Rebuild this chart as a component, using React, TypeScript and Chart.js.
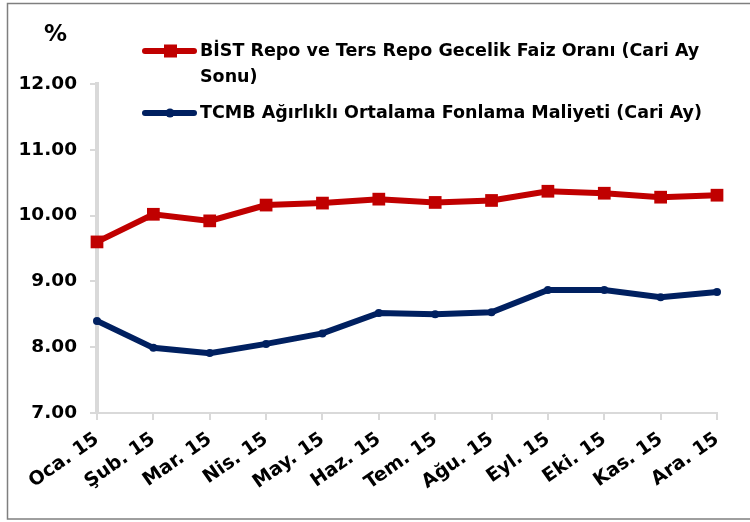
import React, { useEffect, useRef } from "react";
import { Chart, registerables } from "chart.js";

Chart.register(...registerables);

const categories = ["Oca. 15", "Şub. 15", "Mar. 15", "Nis. 15", "May. 15", "Haz. 15", "Tem. 15", "Ağu. 15", "Eyl. 15", "Eki. 15", "Kas. 15", "Ara. 15"];
const bistRepo = [9.6, 10.02, 9.92, 10.16, 10.19, 10.25, 10.2, 10.23, 10.37, 10.34, 10.28, 10.31];
const tcmbCost = [8.4, 7.99, 7.91, 8.05, 8.21, 8.52, 8.5, 8.53, 8.87, 8.87, 8.76, 8.84];
const yTicks = [7, 8, 9, 10, 11, 12];
const legendRed = ["BİST Repo ve Ters Repo Gecelik Faiz Oranı (Cari Ay", "Sonu)"];
const legendBlue = ["TCMB Ağırlıklı Ortalama Fonlama Maliyeti (Cari Ay)"];
const unitLabel = "%";

const RED = "#C00000";
const BLUE = "#002060";
const FONT = "'DejaVu Sans', Verdana, sans-serif";

const overlayPlugin = {
  id: "overlay",
  afterDraw(chart: any) {
    const ctx = chart.ctx;
    ctx.save();
    // border
    ctx.strokeStyle = "#7f7f7f";
    ctx.lineWidth = 1.5;
    ctx.strokeRect(7.5, 3.5, 760, 515.5);
    // unit label
    ctx.fillStyle = "#000";
    ctx.font = `bold 23px ${FONT}`;
    ctx.textBaseline = "alphabetic";
    ctx.textAlign = "left";
    ctx.fillText(unitLabel, 44, 41);
    // legend
    const items = [
      { color: RED, y: 51, text: legendRed, style: "rect" },
      { color: BLUE, y: 113, text: legendBlue, style: "circle" },
    ];
    ctx.font = `bold 17.5px ${FONT}`;
    items.forEach((it) => {
      ctx.strokeStyle = it.color;
      ctx.lineWidth = 6;
      ctx.lineCap = "round";
      ctx.beginPath();
      ctx.moveTo(145, it.y);
      ctx.lineTo(194, it.y);
      ctx.stroke();
      ctx.fillStyle = it.color;
      if (it.style === "rect") {
        ctx.fillRect(164, it.y - 6.5, 13, 13);
      } else {
        ctx.beginPath();
        ctx.arc(170, it.y, 4.5, 0, Math.PI * 2);
        ctx.fill();
      }
      ctx.fillStyle = "#000";
      ctx.textBaseline = "middle";
      it.text.forEach((line, i) => {
        ctx.fillText(line, 200, it.y + i * 26);
      });
    });
    ctx.restore();
  },
};

export default function App() {
  const ref = useRef<HTMLCanvasElement>(null);
  useEffect(() => {
    if (!ref.current) return;
    const chart = new Chart(ref.current, {
      type: "line",
      data: {
        labels: categories,
        datasets: [
          {
            label: legendRed.join(" "),
            data: bistRepo,
            borderColor: RED,
            backgroundColor: RED,
            borderWidth: 6,
            pointStyle: "rect",
            pointRadius: 9,
            pointBorderWidth: 0,
            tension: 0,
          },
          {
            label: legendBlue[0],
            data: tcmbCost,
            borderColor: BLUE,
            backgroundColor: BLUE,
            borderWidth: 6,
            pointStyle: "circle",
            pointRadius: 4,
            pointBorderWidth: 0,
            tension: 0,
          },
        ],
      },
      options: {
        responsive: false,
        animation: false,
        layout: { padding: { left: 8, top: 84, right: 33, bottom: 10 } },
        plugins: { legend: { display: false }, tooltip: { enabled: false } },
        scales: {
          x: {
            offset: false,
            grid: { display: true, drawOnChartArea: false, color: "#d9d9d9", lineWidth: 2, tickLength: 7 },
            border: { color: "#d9d9d9", width: 2 },
            ticks: {
              color: "#000",
              font: { family: FONT, weight: "bold", size: 19 },
              maxRotation: 35,
              minRotation: 35,
              padding: 8,
              autoSkip: false,
            },
            afterFit(scale: any) {
              scale.height = 99;
            },
          },
          y: {
            min: 7,
            max: 12,
            afterBuildTicks(scale: any) {
              scale.ticks = yTicks.map((v) => ({ value: v }));
            },
            grid: { display: true, drawOnChartArea: false, color: "#d9d9d9", lineWidth: 2, tickLength: 7 },
            border: { color: "#d9d9d9", width: 4 },
            ticks: {
              color: "#000",
              font: { family: FONT, weight: "bold", size: 18.5 },
              padding: 13,
              callback: (v: any) => Number(v).toFixed(2),
            },
            afterFit(scale: any) {
              scale.width = 89;
            },
          },
        },
      },
      plugins: [overlayPlugin],
    });
    return () => chart.destroy();
  }, []);
  return (
    <div style={{ position: "fixed", left: 0, top: 0, width: 750, height: 522, background: "#fff" }}>
      <canvas ref={ref} width={750} height={522} style={{ display: "block" }} />
    </div>
  );
}
